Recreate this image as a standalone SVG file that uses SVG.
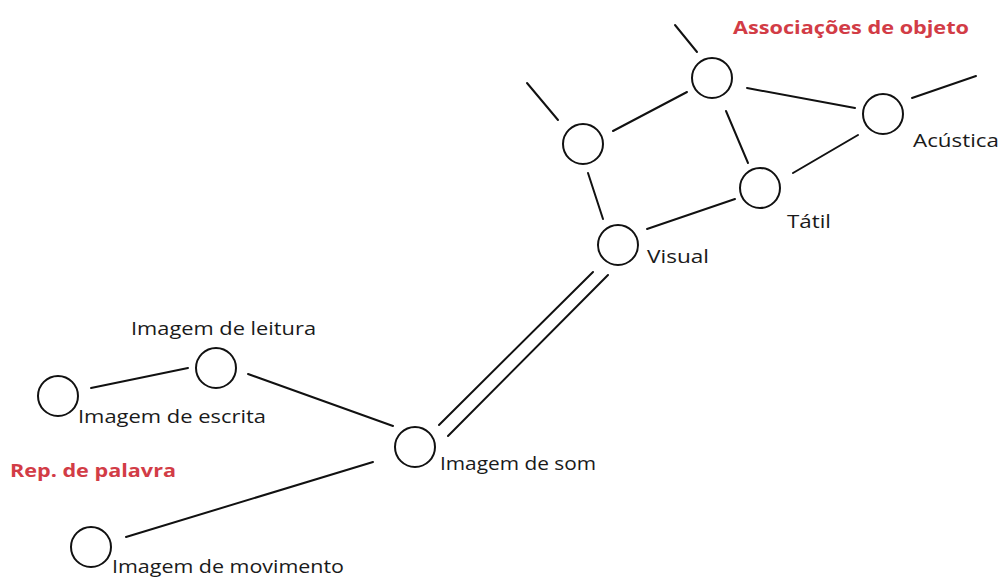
<svg xmlns="http://www.w3.org/2000/svg" width="1000" height="578" viewBox="0 0 1000 578">
  <style>
    .node { fill: none; stroke: #111; stroke-width: 2; }
    .edge { stroke: #111; stroke-width: 2; fill: none; stroke-linecap: round; }
    .lbl { font-family: "Open Sans", "Liberation Sans", sans-serif; font-size: 18px; fill: #1a1a1a; }
    .head { font-family: "Open Sans", "Liberation Sans", sans-serif; font-size: 18px; font-weight: bold; fill: #d23c46; }
  </style>
  <rect width="1000" height="578" fill="#fff"/>

  <!-- connectors -->
  <g id="connectors">
    <!-- object associations -->
    <line class="edge" x1="675" y1="25" x2="697" y2="52"/>
    <line class="edge" x1="527" y1="83" x2="558" y2="120"/>
    <line class="edge" x1="912" y1="98" x2="976" y2="76"/>
    <line class="edge" x1="613" y1="131" x2="687" y2="92"/>
    <line class="edge" x1="747" y1="88" x2="855" y2="108"/>
    <line class="edge" x1="726" y1="111" x2="748" y2="163"/>
    <line class="edge" x1="793" y1="173" x2="858" y2="135"/>
    <line class="edge" x1="588" y1="173" x2="603" y2="219"/>
    <line class="edge" x1="647" y1="229" x2="735" y2="199"/>
    <!-- double link between word and object -->
    <line class="edge" x1="439" y1="425" x2="593" y2="272"/>
    <line class="edge" x1="448" y1="436" x2="608" y2="275"/>
    <!-- word representation -->
    <line class="edge" x1="91" y1="388" x2="188" y2="368"/>
    <line class="edge" x1="248" y1="374" x2="393" y2="426"/>
    <line class="edge" x1="126" y1="537" x2="373" y2="462"/>
  </g>

  <!-- nodes -->
  <g id="node-topo"><circle class="node" cx="712" cy="78" r="20"/></g>
  <g id="node-esquerda"><circle class="node" cx="583" cy="144" r="20"/></g>
  <g id="node-acustica">
    <circle class="node" cx="883" cy="114" r="20"/>
    <text class="lbl" x="913" y="147" textLength="86" lengthAdjust="spacingAndGlyphs">Acústica</text>
  </g>
  <g id="node-tatil">
    <circle class="node" cx="760" cy="188" r="20"/>
    <text class="lbl" x="787" y="228" textLength="44" lengthAdjust="spacingAndGlyphs">Tátil</text>
  </g>
  <g id="node-visual">
    <circle class="node" cx="618" cy="245" r="20"/>
    <text class="lbl" x="647" y="263" textLength="62" lengthAdjust="spacingAndGlyphs">Visual</text>
  </g>
  <g id="node-leitura">
    <circle class="node" cx="216" cy="368" r="20"/>
    <text class="lbl" x="131" y="335" textLength="185" lengthAdjust="spacingAndGlyphs">Imagem de leitura</text>
  </g>
  <g id="node-escrita">
    <circle class="node" cx="58" cy="396" r="20"/>
    <text class="lbl" x="78" y="423" textLength="188" lengthAdjust="spacingAndGlyphs">Imagem de escrita</text>
  </g>
  <g id="node-som">
    <circle class="node" cx="415" cy="447" r="20"/>
    <text class="lbl" x="440" y="470" textLength="156" lengthAdjust="spacingAndGlyphs">Imagem de som</text>
  </g>
  <g id="node-movimento">
    <circle class="node" cx="91" cy="547" r="20"/>
    <text class="lbl" x="112" y="573" textLength="232" lengthAdjust="spacingAndGlyphs">Imagem de movimento</text>
  </g>

  <!-- group titles -->
  <text class="head" x="733" y="34" textLength="236" lengthAdjust="spacingAndGlyphs">Associações de objeto</text>
  <text class="head" x="10" y="477" textLength="166" lengthAdjust="spacingAndGlyphs">Rep. de palavra</text>
</svg>
